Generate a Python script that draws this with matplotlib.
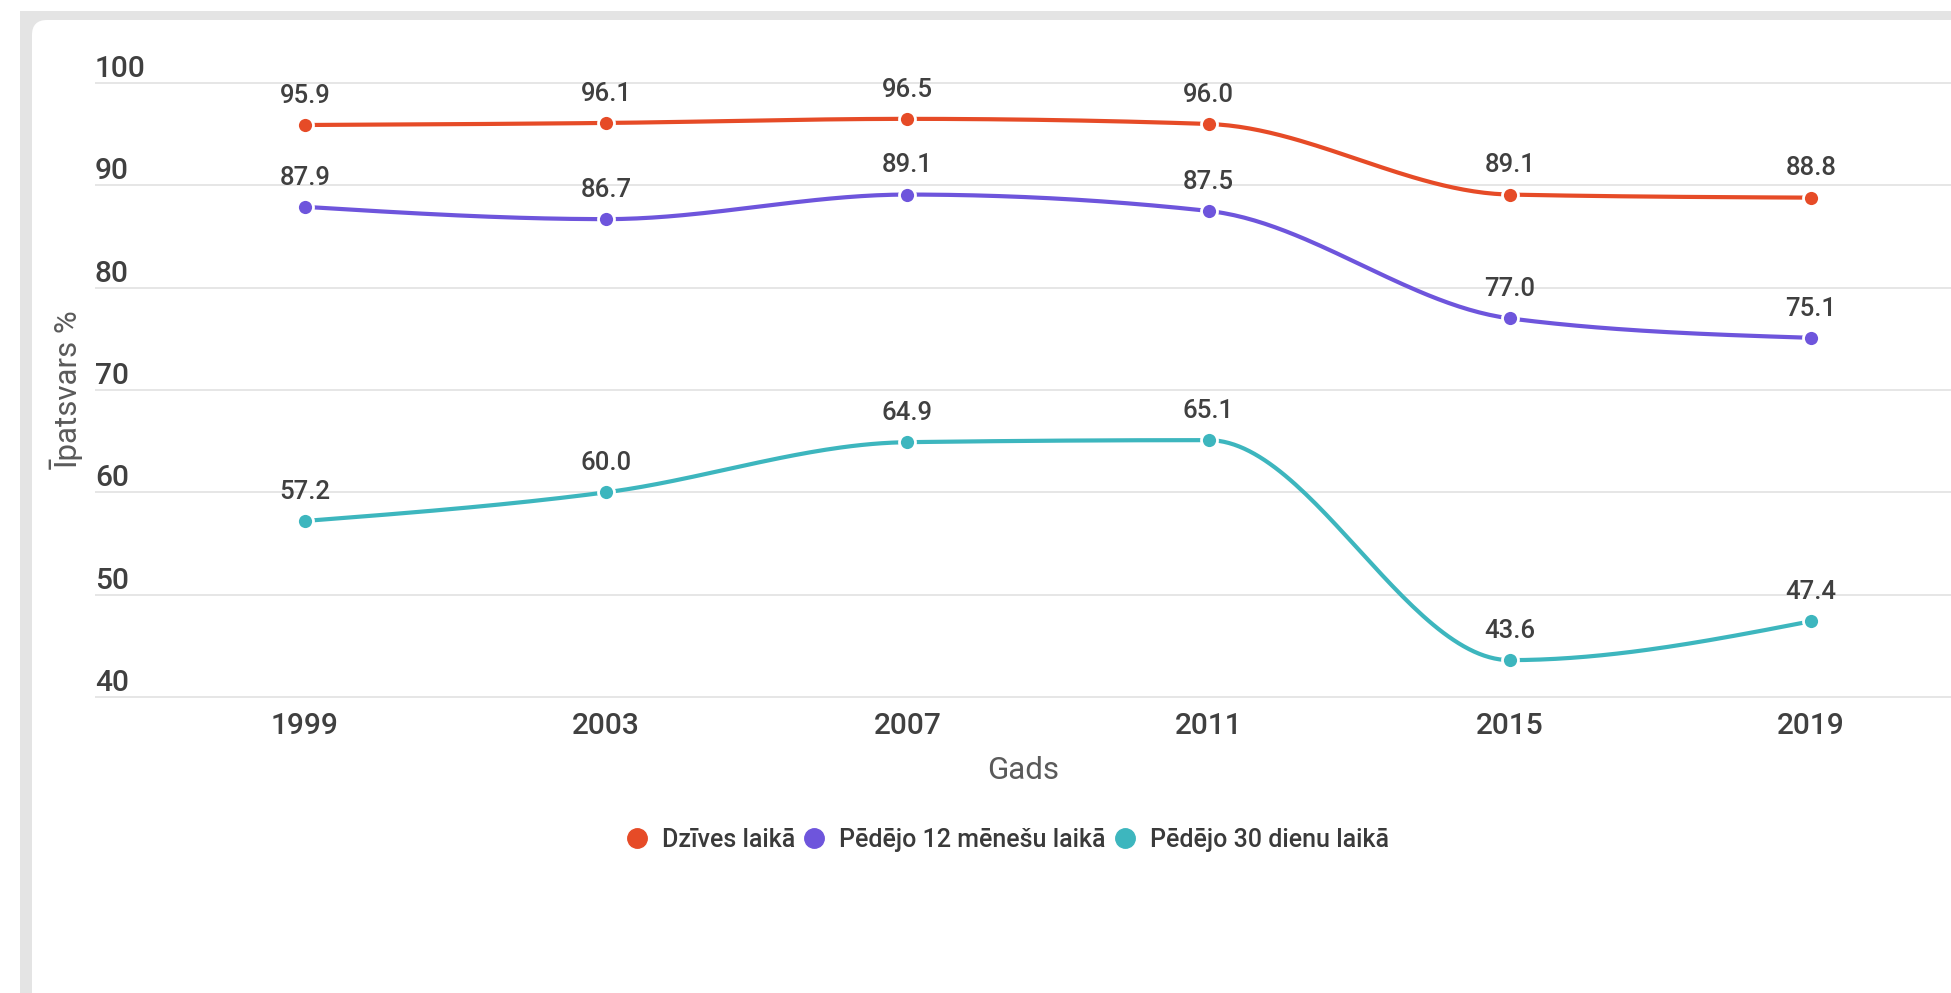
import numpy as np
import matplotlib
matplotlib.use("Agg")
import matplotlib.pyplot as plt
from matplotlib.patches import Rectangle, FancyBboxPatch
from matplotlib.lines import Line2D

plt.rcParams['font.family'] = ['Roboto', 'DejaVu Sans']
plt.rcParams['font.weight'] = 'medium'

years = ["1999", "2003", "2007", "2011", "2015", "2019"]
series_names = ["Dzīves laikā", "Pēdējo 12 mēnešu laikā", "Pēdējo 30 dienu laikā"]
lifetime = [95.9, 96.1, 96.5, 96.0, 89.1, 88.8]
last12m = [87.9, 86.7, 89.1, 87.5, 77.0, 75.1]
last30d = [57.2, 60.0, 64.9, 65.1, 43.6, 47.4]
y_ticks = [40, 50, 60, 70, 80, 90, 100]
colors = ["#E64B27", "#6E55DC", "#3DB6BE"]
x_title = "Gads"
y_title = "Īpatsvars %"

W, H = 1951, 993
fig = plt.figure(figsize=(W / 100, H / 100), dpi=100)
fig.patch.set_facecolor("white")

# card frame
fig.add_artist(Rectangle((20, -20), 2100, H - 11 + 20, transform=None,
                         facecolor="#e4e4e4", edgecolor="none", zorder=-5))
fig.add_artist(FancyBboxPatch((32, -40), 2100, H - 20 + 40, transform=None,
                              boxstyle="round,pad=0,rounding_size=15",
                              facecolor="white", edgecolor="none", zorder=-4))


def monotone_curve(ys, n=60):
    xs = np.arange(len(ys), dtype=float)
    ys = np.asarray(ys, dtype=float)
    h = np.diff(xs)
    s = np.diff(ys) / h
    m = np.zeros(len(ys))
    sgn = lambda v: -1.0 if v < 0 else 1.0
    for i in range(1, len(ys) - 1):
        p = (s[i - 1] * h[i] + s[i] * h[i - 1]) / (h[i - 1] + h[i])
        m[i] = (sgn(s[i - 1]) + sgn(s[i])) * min(abs(s[i - 1]), abs(s[i]), 0.5 * abs(p))
    m[0] = (3 * s[0] - m[1]) / 2
    m[-1] = (3 * s[-1] - m[-2]) / 2
    out_x, out_y = [], []
    for i in range(len(ys) - 1):
        t = np.linspace(0, 1, n)
        hh = h[i]
        h00 = 2 * t**3 - 3 * t**2 + 1
        h10 = t**3 - 2 * t**2 + t
        h01 = -2 * t**3 + 3 * t**2
        h11 = t**3 - t**2
        yy = h00 * ys[i] + h10 * hh * m[i] + h01 * ys[i + 1] + h11 * hh * m[i + 1]
        out_x.extend(xs[i] + t * hh)
        out_y.extend(yy)
    return np.array(out_x), np.array(out_y)


# axes placement (pixels)
left_px, right_px = 95, W
y_bottom_px, y_top_px = 699, 81
ax = fig.add_axes([left_px / W, 1 - y_bottom_px / H,
                   (right_px - left_px) / W, (y_bottom_px - y_top_px) / H])
ax.set_facecolor("none")
ax.set_xlim(-0.697, 5.465)
ax.set_ylim(39.8, 100.2)

for sp in ax.spines.values():
    sp.set_visible(False)

ax.set_yticks(y_ticks)
ax.set_yticklabels([str(v) for v in y_ticks], ha="left", va="bottom")
ax.tick_params(axis="y", length=0, pad=0, labelsize=21.5, labelcolor="#404040")
ax.grid(axis="y", color="#e6e6e6", lw=1.4)
ax.set_axisbelow(True)

xi = np.arange(len(years))
ax.set_xticks(xi)
ax.set_xticklabels(years)
ax.tick_params(axis="x", length=0, pad=9, labelsize=21.5, labelcolor="#404040")

ax.set_xlabel(x_title, fontsize=22.5, color="#5a5a5a", labelpad=12, fontweight="normal")
ax.set_ylabel(y_title, fontsize=22.5, color="#5a5a5a", va="center", fontweight="normal")
ax.yaxis.set_label_coords(-28 / (right_px - left_px), 0.5)

for vals, col in zip([lifetime, last12m, last30d], colors):
    cx, cy = monotone_curve(vals)
    ax.plot(cx, cy, color=col, lw=3, solid_capstyle="round", zorder=3, clip_on=False)
    ax.plot(xi, vals, "o", ms=11.5, color=col, mec="white", mew=2, zorder=4, clip_on=False)
    for x, v in zip(xi, vals):
        ax.annotate(f"{v:.1f}", (x, v), xytext=(0, 16), textcoords="offset points",
                    ha="center", va="baseline", fontsize=18.5, color="#404040")

handles = [Line2D([], [], marker="o", ls="none", color=c, ms=14) for c in colors]
fig.legend(handles, series_names, loc="center", bbox_to_anchor=(1008 / W, 1 - 840 / H),
           ncol=3, frameon=False, fontsize=18, handlelength=0.8, handletextpad=0.6,
           columnspacing=0.36, labelcolor="#3a3a3a")

fig.savefig("out.png", dpi=100, facecolor="white")
